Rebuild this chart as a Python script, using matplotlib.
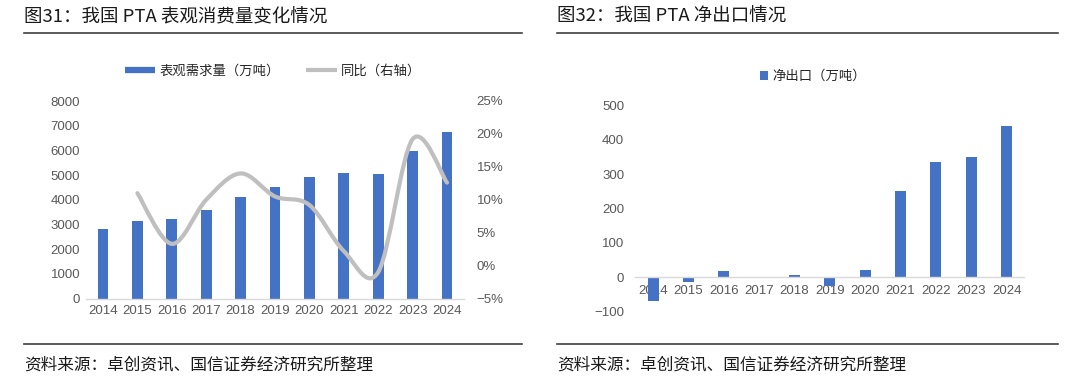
"""PTA apparent consumption and net exports, two panels side by side."""

import matplotlib
matplotlib.use("Agg")
import matplotlib.pyplot as plt
import numpy as np
from matplotlib.lines import Line2D
from matplotlib.patches import Patch, PathPatch
from matplotlib.path import Path
from matplotlib.ticker import FuncFormatter, MultipleLocator

years = ["2014", "2015", "2016", "2017", "2018", "2019",
         "2020", "2021", "2022", "2023", "2024"]
demand = [2815, 3140, 3235, 3585, 4100, 4505, 4935, 5070, 5030, 5985, 6730]
yoy_years = years[1:]
yoy_pct = [11.0, 3.3, 10.0, 14.0, 10.5, 9.2, 2.2, -1.0, 19.2, 12.6]
net_export = [-70, -13, 19, 0, 7, -27, 22, 250, 337, 349, 440]

left_title = "图31：我国 PTA 表观消费量变化情况"
right_title = "图32：我国 PTA 净出口情况"
source_note = "资料来源：卓创资讯、国信证券经济研究所整理"
demand_label = "表观需求量（万吨）"
yoy_label = "同比（右轴）"
export_label = "净出口（万吨）"

BAR_BLUE = "#4472C4"
LINE_GREY = "#BFBFBF"
TICK_GREY = "#595959"
AXIS_GREY = "#D9D9D9"
RULE_GREY = "#404040"
CJK = ["Noto Sans CJK SC", "DejaVu Sans"]
NUM = ["Liberation Sans", "DejaVu Sans"]

plt.rcParams["font.family"] = CJK

W, H = 1080, 382
fig = plt.figure(figsize=(W / 100, H / 100), dpi=100)


def px_axes(x0, x1, y_top, y_bottom):
    return fig.add_axes([x0 / W, (H - y_bottom) / H, (x1 - x0) / W, (y_bottom - y_top) / H])


def style_axes(ax, xpad):
    for side in ["top", "right", "left"]:
        ax.spines[side].set_visible(False)
    ax.spines["bottom"].set_color(AXIS_GREY)
    ax.spines["bottom"].set_linewidth(1.0)
    ax.tick_params(axis="both", length=0, colors=TICK_GREY, labelsize=9.5)
    ax.tick_params(axis="x", pad=xpad)
    for lab in ax.get_xticklabels() + ax.get_yticklabels():
        lab.set_family(NUM)


def smooth_path(xs, ys):
    # Excel-style smoothed line: cubic Bezier through each point
    pts = np.column_stack([xs, ys]).astype(float)
    ext = np.vstack([pts[0], pts, pts[-1]])
    verts = [tuple(pts[0])]
    codes = [Path.MOVETO]
    for i in range(len(pts) - 1):
        p0, p1, p2, p3 = ext[i], ext[i + 1], ext[i + 2], ext[i + 3]
        c1 = p1 + (p2 - p0) / 6
        c2 = p2 - (p3 - p1) / 6
        verts += [tuple(c1), tuple(c2), tuple(p2)]
        codes += [Path.CURVE4] * 3
    return Path(verts, codes)


def rule(x0, x1, y):
    fig.add_artist(Line2D([x0 / W, x1 / W], [(H - y) / H] * 2,
                          color=RULE_GREY, linewidth=1.2))


def minus_fmt(fmt):
    return FuncFormatter(lambda v, _: fmt.format(v).replace("-", "\u2212"))


# ---- left panel ----
x = np.arange(len(years))
ax1 = px_axes(85.8, 464.2, 101, 298.5)
ax1.bar(x, demand, width=0.31, color=BAR_BLUE, zorder=2)
ax1.set_xlim(-0.5, len(years) - 0.5)
ax1.set_ylim(0, 8000)
ax1.yaxis.set_major_locator(MultipleLocator(1000))
ax1.set_xticks(x)
ax1.set_xticklabels(years)
ax1.yaxis.set_major_formatter(minus_fmt("{:.0f}"))
ax1.tick_params(axis="y", pad=4)
style_axes(ax1, 5)

ax1b = ax1.twinx()
ax1b.set_ylim(-5, 25)
ax1b.yaxis.set_major_locator(MultipleLocator(5))
ax1b.yaxis.set_major_formatter(minus_fmt("{:.0f}%"))
for side in ["top", "left", "bottom", "right"]:
    ax1b.spines[side].set_visible(False)
ax1b.tick_params(axis="y", length=0, colors=TICK_GREY, labelsize=9.5, pad=9)
for lab in ax1b.get_yticklabels():
    lab.set_family(NUM)
yoy_x = [years.index(y) for y in yoy_years]
ax1b.add_patch(PathPatch(smooth_path(yoy_x, yoy_pct), facecolor="none",
                         edgecolor=LINE_GREY, linewidth=3.0, capstyle="round", zorder=3))

handles = [Line2D([], [], color=BAR_BLUE, linewidth=4.5, solid_capstyle="butt"),
           Line2D([], [], color=LINE_GREY, linewidth=3, solid_capstyle="butt")]
fig.legend(handles, [demand_label, yoy_label], loc="center",
           bbox_to_anchor=(273 / W, (H - 71) / H), ncol=2, frameon=False,
           fontsize=9.6, handlelength=2.3, handletextpad=0.3, columnspacing=2.0,
           labelcolor="#262626")

# ---- right panel ----
ax2 = px_axes(635.4, 1024.3, 105.7, 311.4)
ax2.bar(x, net_export, width=0.31, color=BAR_BLUE, zorder=2)
ax2.set_axisbelow(True)
ax2.set_xlim(-0.5, len(years) - 0.5)
ax2.set_ylim(-100, 500)
ax2.yaxis.set_major_locator(MultipleLocator(100))
ax2.yaxis.set_major_formatter(minus_fmt("{:.0f}"))
ax2.set_xticks(x)
ax2.set_xticklabels(years)
ax2.spines["bottom"].set_position(("data", 0))
ax2.tick_params(axis="y", pad=8)
style_axes(ax2, 6)

fig.legend([Patch(facecolor=BAR_BLUE)], [export_label], loc="center",
           bbox_to_anchor=(813 / W, (H - 76) / H), frameon=False, fontsize=9.6,
           handlelength=0.6, handleheight=0.6, handletextpad=0.3,
           labelcolor="#262626")

# ---- titles, rules, source notes ----
fig.text(24 / W, (H - 17) / H, left_title, fontsize=13.3, fontweight="medium",
         va="center", ha="left", color="#1a1a1a")
fig.text(557 / W, (H - 17) / H, right_title, fontsize=13.3, fontweight="medium",
         va="center", ha="left", color="#1a1a1a")
rule(24, 522, 32.5)
rule(557, 1058, 32.5)
rule(24, 522, 344)
rule(557, 1058, 344)
fig.text(24 / W, (H - 365) / H, source_note, fontsize=12, va="center", ha="left", color="#1a1a1a")
fig.text(557 / W, (H - 365) / H, source_note, fontsize=12, va="center", ha="left", color="#1a1a1a")

fig.savefig("out.png", dpi=100)
